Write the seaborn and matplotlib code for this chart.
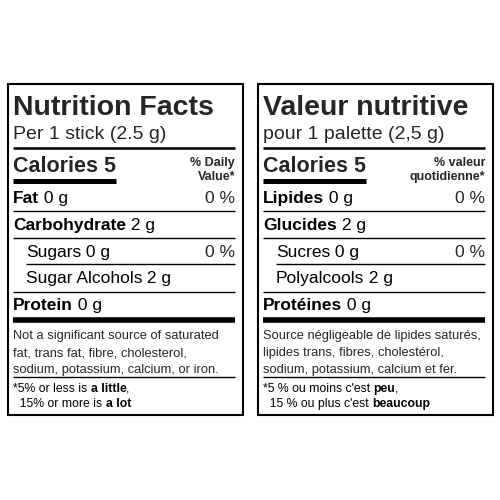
import matplotlib
matplotlib.use("Agg")
import matplotlib.pyplot as plt
import seaborn as sns

sns.set_theme(style="white")
plt.rcParams['font.family'] = ['Liberation Sans', 'DejaVu Sans']

titles = ["Nutrition Facts", "Valeur nutritive"]
servings = ["Per 1 stick (2.5 g)", "pour 1 palette (2,5 g)"]
calories_lbl = ["Calories 5", "Calories 5"]
dv_head = [["% Daily", "Value*"], ["% valeur", "quotidienne*"]]
nutr_names = [["Fat", "Carbohydrate", "Sugars", "Sugar Alcohols", "Protein"],
              ["Lipides", "Glucides", "Sucres", "Polyalcools", "Protéines"]]
nutr_amounts = ["0 g", "2 g", "0 g", "2 g", "0 g"]
nutr_dv = ["0 %", "", "0 %", "", ""]
nutr_indent = [False, False, True, True, False]
nutr_bold = [True, True, False, False, True]
notes = [["Not a significant source of saturated", "fat, trans fat, fibre, cholesterol,",
          "sodium, potassium, calcium, or iron."],
         ["Source négligeable de lipides saturés,", "lipides trans, fibres, cholestérol,",
          "sodium, potassium, calcium et fer."]]
foot = [[("*5% or less is ", "a little", ","), ("  15% or more is ", "a lot", "")],
        [("*5 % ou moins c'est ", "peu", ","), ("  15 % ou plus c'est ", "beaucoup", "")]]

fig = plt.figure(figsize=(5, 5), dpi=100)
ax = fig.add_axes([0, 0, 1, 1])
ax.set_xlim(0, 500); ax.set_ylim(500, 0); ax.axis('off')
fig.canvas.draw()
r = fig.canvas.get_renderer()

def seq(x, y, parts, size):
    for txt, bold in parts:
        if not txt:
            continue
        t = ax.text(x, y, txt, fontsize=size, fontweight='bold' if bold else 'normal',
                    va='baseline', ha='left', color='black')
        x += t.get_window_extent(r).width

def hline(x0, x1, y, lw):
    ax.plot([x0, x1], [y, y], color='black', lw=lw, solid_capstyle='butt')

for p in range(2):
    off = p * 250
    L = 8 + off; R = 243 + off
    ax.add_patch(plt.Rectangle((L, 84), R - L, 331, fill=False, ec='black', lw=1.5))
    xl = L + 5; xr = R - 8
    ax.text(xl, 115, titles[p], fontsize=20.5, fontweight='bold', va='baseline')
    ax.text(xl, 139, servings[p], fontsize=14, va='baseline')
    hline(xl, xr, 148, 1.8)
    ax.text(xl, 172, calories_lbl[p], fontsize=15.5, fontweight='bold', va='baseline')
    ax.text(xr, 166, dv_head[p][0], fontsize=9, fontweight='bold', va='baseline', ha='right')
    ax.text(xr, 180, dv_head[p][1], fontsize=9, fontweight='bold', va='baseline', ha='right')
    hline(xl, L + 108, 181, 3.6)
    bases = [203, 230, 257, 283, 310]
    lines = [211, 238, 264, 292]
    for i in range(5):
        x = xl + (13 if nutr_indent[i] else 0)
        seq(x, bases[i], [(nutr_names[p][i], nutr_bold[i]), (" " + nutr_amounts[i], False)], 12.5)
        if nutr_dv[i]:
            ax.text(xr, bases[i], nutr_dv[i], fontsize=12.5, va='baseline', ha='right')
        if i < 4:
            hline(xl + 13 if i == 2 else xl, xr, lines[i], 1.0)
    hline(xl, xr, 320, 4.0)
    for j, s in enumerate(notes[p]):
        ax.text(xl, 339 + j * 17, s, fontsize=9.3, va='baseline')
    hline(xl, xr, 377, 1.0)
    for j, (a, b, c) in enumerate(foot[p]):
        seq(xl, 392 + j * 15, [(a, False), (b, True), (c, False)], 8.8)

fig.savefig("out.png", dpi=100, facecolor='white')
